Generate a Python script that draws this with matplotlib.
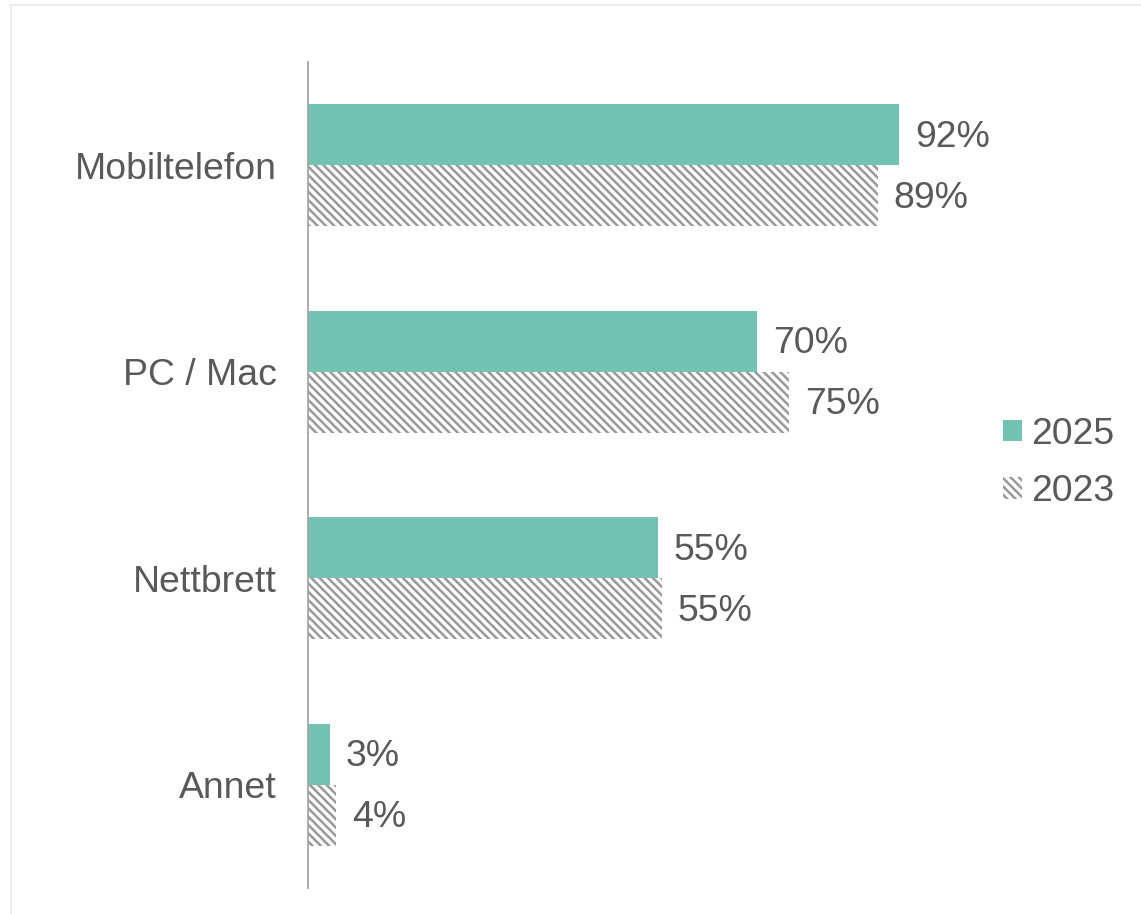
import matplotlib
matplotlib.use("Agg")
import matplotlib.pyplot as plt
from matplotlib.lines import Line2D

plt.rcParams['font.family'] = ['Liberation Sans', 'DejaVu Sans']
plt.rcParams['hatch.linewidth'] = 1.8

categories = ["Mobiltelefon", "PC / Mac", "Nettbrett", "Annet"]
series_names = ["2025", "2023"]
values_2025 = [92.2, 70.0, 54.6, 3.4]
values_2023 = [88.9, 75.0, 55.2, 4.4]

W, H = 1141, 914
fig = plt.figure(figsize=(W / 100, H / 100), dpi=100)
fig.patch.set_facecolor('white')

# faint outer frame (top and left)
fig.add_artist(Line2D([10 / W, 1.0], [1 - 4.5 / H, 1 - 4.5 / H], color='#eeeeee', lw=1.5))
fig.add_artist(Line2D([10.5 / W, 10.5 / W], [0, 1 - 4.5 / H], color='#eeeeee', lw=1.5))

left, right = 308, 949
top, bottom = 62, 888
ax = fig.add_axes([left / W, 1 - bottom / H, (right - left) / W, (bottom - top) / H])

teal = '#72c3b2'
gray = '#999999'
txt = '#595959'
fs = 26.9
bh = 0.295
y = list(range(len(categories)))

b1 = ax.barh([i - bh / 2 for i in y], values_2025, height=bh, color=teal,
             linewidth=0, label=series_names[0])
b2 = ax.barh([i + bh / 2 for i in y], values_2023, height=bh, facecolor='white',
             edgecolor=gray, hatch='\\\\\\\\', linewidth=0, label=series_names[1])

for bars, vals in ((b1, values_2025), (b2, values_2023)):
    for rect, v in zip(bars, vals):
        ax.annotate(f"{v:.0f}%", xy=(rect.get_width(), rect.get_y() + rect.get_height() / 2),
                    xytext=(11.5, -1.8), textcoords='offset points', ha='left', va='center',
                    fontsize=fs, color=txt)

ax.set_ylim(3.5, -0.5)
ax.set_xlim(0, 100)
ax.set_yticks(y)
ax.set_yticklabels(categories, fontsize=fs, color=txt)
ax.tick_params(axis='y', length=0, pad=22.3)
ax.set_xticks([])
for s in ('top', 'right', 'bottom'):
    ax.spines[s].set_visible(False)
ax.spines['left'].set_color('#a6a6a6')
ax.spines['left'].set_linewidth(1.3)

fig.legend(handles=[b1, b2], labels=series_names, loc='center left',
           bbox_to_anchor=(1003 / W, 1 - 463 / H), frameon=False, fontsize=fs,
           labelcolor=txt, handlelength=0.52, handleheight=0.52, handletextpad=0.22,
           labelspacing=0.6, borderaxespad=0, borderpad=0)

fig.savefig("out.png", dpi=100, facecolor='white')
